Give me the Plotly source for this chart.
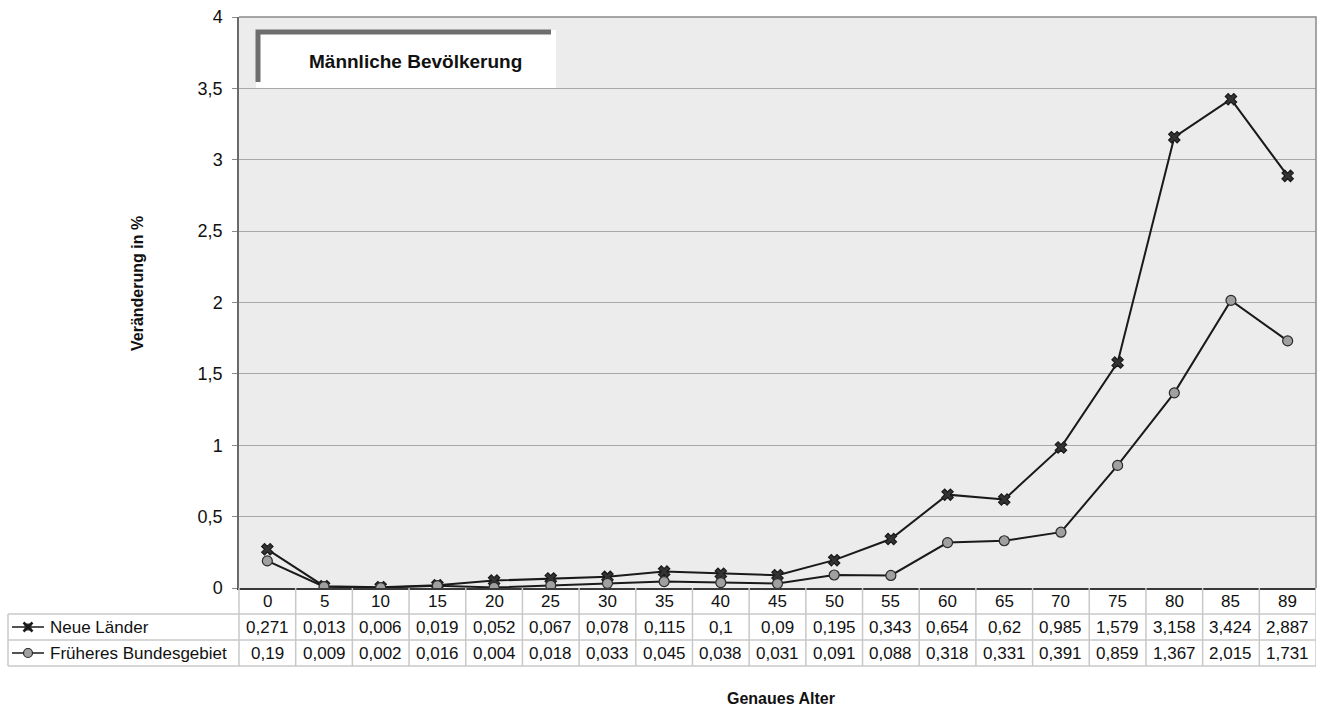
import plotly.graph_objects as go

# Age groups (exact age) and percentage changes
ages = ["0", "5", "10", "15", "20", "25", "30", "35", "40", "45", "50",
        "55", "60", "65", "70", "75", "80", "85", "89"]
neue_laender = [0.271, 0.013, 0.006, 0.019, 0.052, 0.067, 0.078, 0.115, 0.1, 0.09,
                0.195, 0.343, 0.654, 0.62, 0.985, 1.579, 3.158, 3.424, 2.887]
frueheres_bg = [0.19, 0.009, 0.002, 0.016, 0.004, 0.018, 0.033, 0.045, 0.038, 0.031,
                0.091, 0.088, 0.318, 0.331, 0.391, 0.859, 1.367, 2.015, 1.731]
series_names = ["Neue Länder", "Früheres Bundesgebiet"]
y_ticks = [0, 0.5, 1, 1.5, 2, 2.5, 3, 3.5, 4]
y_ticktext = ["0", "0,5", "1", "1,5", "2", "2,5", "3", "3,5", "4"]

FONT = "Liberation Sans, Arial, sans-serif"
W, H = 1322, 707
ML, MR, MT, MB = 239, 6, 17, 119
PW = W - ML - MR
PH = H - MT - MB
TXT = 17


def py(px_y):
    """Convert a pixel row (from the top of the page) into paper y."""
    return (H - MB - px_y) / PH


def px(px_x):
    return (px_x - ML) / PW


def fmt(v):
    return ("%g" % v).replace(".", ",")


def note(x, y, text, xref="paper", size=TXT, xanchor="center", **kw):
    return dict(x=x, y=y, xref=xref, yref="paper", text=text, showarrow=False,
                xanchor=xanchor, yanchor="middle",
                font=dict(size=size, color="#111"), **kw)


NL_MARKER = dict(symbol="x", size=10, color="#333333",
                 line=dict(color="#1a1a1a", width=1.2))
BG_MARKER = dict(symbol="circle", size=10, color="#a0a0a0",
                 line=dict(color="#2a2a2a", width=1.2))

xs = list(range(len(ages)))

fig = go.Figure()
fig.add_trace(go.Scatter(
    x=xs, y=neue_laender, mode="lines+markers", name=series_names[0],
    line=dict(color="#1a1a1a", width=2), marker=NL_MARKER,
))
fig.add_trace(go.Scatter(
    x=xs, y=frueheres_bg, mode="lines+markers", name=series_names[1],
    line=dict(color="#1a1a1a", width=2), marker=BG_MARKER,
))

shapes = []
annotations = []

# data table below the plot
grid_col = "#c8c8c8"
for ry in (614, 640, 666):
    shapes.append(dict(type="line", xref="paper", yref="paper",
                       x0=px(8), x1=1, y0=py(ry), y1=py(ry),
                       line=dict(color=grid_col, width=1.5)))
shapes.append(dict(type="line", xref="paper", yref="paper",
                   x0=px(8), x1=px(8), y0=py(614), y1=py(666),
                   line=dict(color=grid_col, width=1.5)))
shapes.append(dict(type="line", xref="paper", yref="paper",
                   x0=0, x1=0, y0=py(588), y1=py(666),
                   line=dict(color=grid_col, width=1.5)))
for i in range(len(ages)):
    shapes.append(dict(type="line", xref="x", yref="paper",
                       x0=i + 0.5, x1=i + 0.5, y0=py(588), y1=py(666),
                       line=dict(color=grid_col, width=1.5)))

for i, a in enumerate(ages):
    annotations.append(note(i, py(601), a, xref="x"))
    annotations.append(note(i, py(627), fmt(neue_laender[i]), xref="x"))
    annotations.append(note(i, py(653), fmt(frueheres_bg[i]), xref="x"))

# legend keys in the table's first column: line + marker glyph
for name, ry in ((series_names[0], 627), (series_names[1], 653)):
    shapes.append(dict(type="line", xref="paper", yref="paper",
                       x0=px(12), x1=px(44), y0=py(ry), y1=py(ry),
                       line=dict(color="#1a1a1a", width=1.5)))
    annotations.append(note(px(48), py(ry), name, xanchor="left"))

# "x" glyph for Neue Länder (pixel-sized around its anchor)
shapes.append(dict(type="rect", xref="paper", yref="paper",
                   xsizemode="pixel", ysizemode="pixel",
                   xanchor=px(28), yanchor=py(627),
                   x0=-3.5, x1=3.5, y0=-3.5, y1=3.5,
                   fillcolor="#3a3a3a", line=dict(width=0)))
shapes.append(dict(type="path", xref="paper", yref="paper",
                   xsizemode="pixel", ysizemode="pixel",
                   xanchor=px(28), yanchor=py(627),
                   path="M -4.5 -4.5 L 4.5 4.5 M -4.5 4.5 L 4.5 -4.5",
                   line=dict(color="#1a1a1a", width=2.5)))
# circle glyph for Früheres Bundesgebiet
shapes.append(dict(type="circle", xref="paper", yref="paper",
                   xsizemode="pixel", ysizemode="pixel",
                   xanchor=px(28), yanchor=py(653),
                   x0=-4.5, x1=4.5, y0=-4.5, y1=4.5,
                   fillcolor="#a0a0a0", line=dict(color="#2a2a2a", width=1.2)))

# title box inside the plot area
shapes.append(dict(type="rect", xref="paper", yref="paper",
                   x0=px(256), x1=px(556), y0=py(88), y1=py(30),
                   fillcolor="white", line=dict(width=0), layer="above"))
shapes.append(dict(type="path", xref="paper", yref="paper",
                   path="M %f %f L %f %f L %f %f" % (
                       px(258), py(82), px(258), py(32), px(551), py(32)),
                   line=dict(color="#6e6e6e", width=5), layer="above"))
annotations.append(note(px(415), py(62), "<b>Männliche Bevölkerung</b>", size=19))

# axis titles
annotations.append(note(px(137), py(284), "<b>Veränderung in %</b>", size=16,
                        textangle=-90))
annotations.append(note(px(781), py(698), "<b>Genaues Alter</b>", size=16))

# plot-area frame (top and right edges)
shapes.append(dict(type="path", xref="paper", yref="paper",
                   path="M 0 1 L 1 1 L 1 0",
                   line=dict(color="#8a8a8a", width=1.5)))

fig.update_layout(
    width=W, height=H,
    margin=dict(l=ML, r=MR, t=MT, b=MB),
    paper_bgcolor="white",
    plot_bgcolor="#ececec",
    showlegend=False,
    font=dict(family=FONT, size=TXT, color="#111"),
    xaxis=dict(range=[-0.5, len(ages) - 0.5], showticklabels=False,
               showgrid=False, zeroline=False, showline=True,
               linecolor="#3a3a3a", linewidth=1.5, ticks=""),
    yaxis=dict(range=[0, 4], tickvals=y_ticks, ticktext=y_ticktext,
               showgrid=True, gridcolor="#a8a8a8", gridwidth=1,
               zeroline=False, showline=True, linecolor="#6a6a6a",
               linewidth=1.5, ticks="outside", ticklen=5,
               tickcolor="#8a8a8a", ticklabelstandoff=6,
               tickfont=dict(size=18, color="#111")),
    shapes=shapes,
    annotations=annotations,
)

fig.write_html("out.html")
